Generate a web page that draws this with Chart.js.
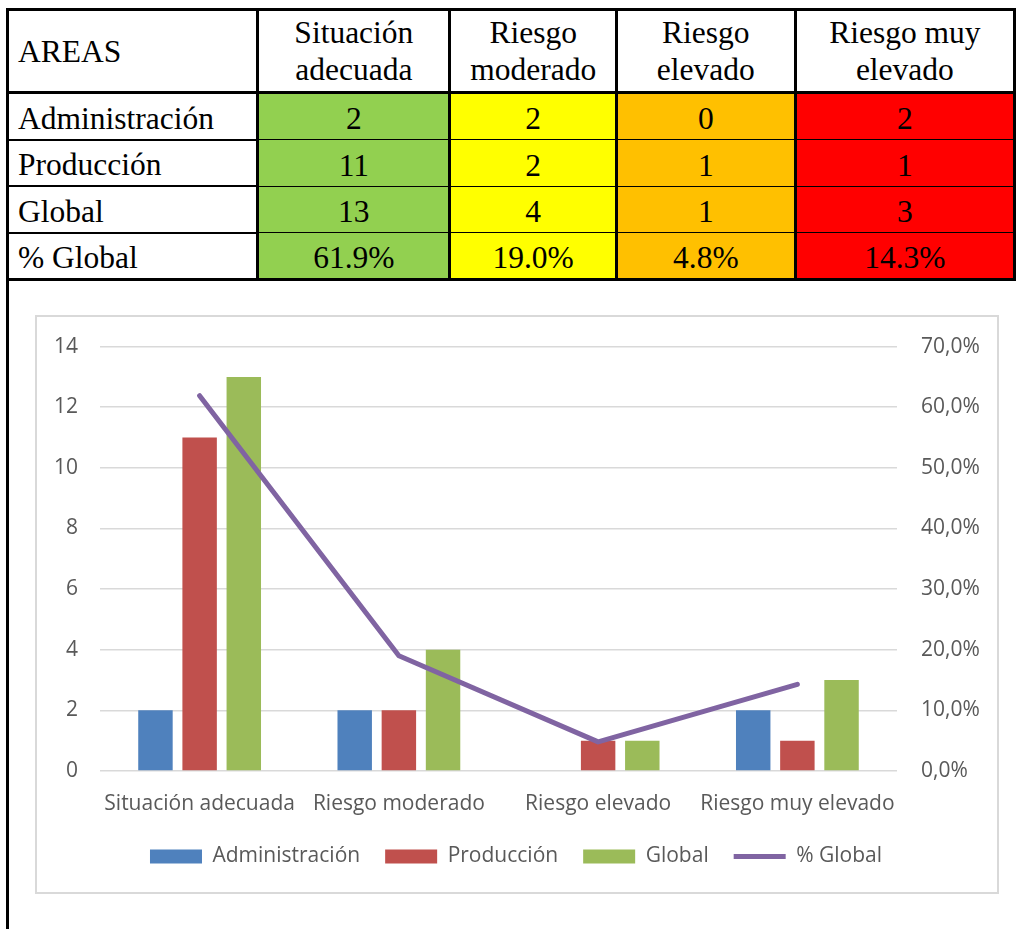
<!DOCTYPE html>
<html lang="es">
<head>
<meta charset="utf-8">
<title>Áreas por nivel de riesgo</title>
<script src="https://cdn.jsdelivr.net/npm/chart.js@4.4.1/dist/chart.umd.min.js"></script>
<style>
  html, body { margin: 0; padding: 0; background: #fff; }
  body { width: 1016px; height: 929px; position: relative; overflow: hidden; }
  #bordeIzq { position: absolute; left: 6px; top: 8px; width: 3px; height: 925px; background: #000; }
  #tabla {
    position: absolute; left: 6px; top: 8px;
    border-collapse: collapse; table-layout: fixed;
    font-family: "Liberation Serif", "Times New Roman", serif; font-size: 31.5px; color: #000;
  }
  #tabla th, #tabla td { padding: 0; font-weight: normal; }
  #tabla th {
    height: 80px; line-height: 37px; border: 3px solid #000;
    text-align: center; vertical-align: middle;
  }
  #tabla th.area { text-align: left; padding-left: 9px; }
  #tabla td {
    height: 42.5px; line-height: 36px; text-align: center; vertical-align: bottom; padding-bottom: 2px;
    border-top: 1px solid #000; border-bottom: 1px solid #000;
    border-left: 3px solid #000; border-right: 3px solid #000;
  }
  #tabla td.area { text-align: left; padding-left: 9px; border-top: 2px solid #000; border-bottom: 2px solid #000; }
  #tabla tr:last-child td { border-bottom: 3px solid #000; }
  #caja { position: absolute; left: 35px; top: 315px; width: 960px; height: 575px; border: 2px solid #d9d9d9; }
  #grafico { position: absolute; left: 37px; top: 310px; }
</style>
</head>
<body>
<div id="bordeIzq"></div>
<table id="tabla">
  <colgroup>
    <col style="width:252px"><col style="width:195px"><col style="width:168px"><col style="width:182px"><col style="width:224px">
  </colgroup>
  <thead><tr id="cabecera"></tr></thead>
  <tbody id="cuerpo"></tbody>
</table>
<div id="caja"></div>
<canvas id="grafico" width="958" height="572"></canvas>
<script>
// datos por nivel de riesgo
const categorias = ['Situación adecuada', 'Riesgo moderado', 'Riesgo elevado', 'Riesgo muy elevado'];
const administracion = [2, 2, 0, 2];
const produccion = [11, 2, 1, 1];
const globalTotal = [13, 4, 1, 3];
const pctGlobal = [61.9, 19.0, 4.8, 14.3];
const coloresNivel = ['#92D050', '#FFFF00', '#FFC000', '#FF0000'];

// tabla resumen
const cabecera = document.getElementById('cabecera');
cabecera.innerHTML = '<th class="area">AREAS</th>' + categorias.map(c => '<th>' + c + '</th>').join('');

const filas = [
  ['Administración', administracion.map(String)],
  ['Producción', produccion.map(String)],
  ['Global', globalTotal.map(String)],
  ['% Global', pctGlobal.map(v => v.toFixed(1) + '%')]
];
document.getElementById('cuerpo').innerHTML = filas.map(([nombre, valores]) =>
  '<tr><td class="area">' + nombre + '</td>' +
  valores.map((v, i) => '<td style="background:' + coloresNivel[i] + '">' + v + '</td>').join('') +
  '</tr>'
).join('');

// gráfico combinado
const fuente = { family: '"Open Sans", "Noto Sans", sans-serif', size: 21 };
const gris = '#595959';

new Chart(document.getElementById('grafico'), {
  type: 'bar',
  data: {
    labels: categorias,
    datasets: [
      { label: 'Administración', data: administracion, backgroundColor: '#4F81BD', yAxisID: 'y', order: 1, pointStyle: 'rect' },
      { label: 'Producción', data: produccion, backgroundColor: '#C0504D', yAxisID: 'y', order: 1, pointStyle: 'rect' },
      { label: 'Global', data: globalTotal, backgroundColor: '#9BBB59', yAxisID: 'y', order: 1, pointStyle: 'rect' },
      {
        type: 'line', label: '% Global', data: pctGlobal, yAxisID: 'y1', order: 0,
        borderColor: '#8064A2', backgroundColor: '#8064A2', borderWidth: 5,
        pointRadius: 0, pointHoverRadius: 0, pointStyle: 'line',
        borderCapStyle: 'round', borderJoinStyle: 'round', tension: 0
      }
    ]
  },
  options: {
    responsive: false,
    animation: false,
    categoryPercentage: 0.665,
    barPercentage: 0.78,
    layout: { padding: { top: 22, bottom: 5, left: 0, right: 0 } },
    scales: {
      x: {
        grid: { display: false },
        border: { display: false },
        ticks: { font: fuente, color: gris, padding: 12, maxRotation: 0 },
        afterFit: s => { s.height = 50; }
      },
      y: {
        position: 'left', min: 0, max: 14,
        grid: { color: '#d9d9d9', lineWidth: 1.5, drawTicks: false },
        border: { display: false },
        ticks: { stepSize: 2, font: fuente, color: gris, padding: 22 },
        afterFit: s => { s.width = 63; }
      },
      y1: {
        position: 'right', min: 0, max: 70,
        grid: { display: false, drawTicks: false },
        border: { display: false },
        ticks: {
          stepSize: 10, font: fuente, color: gris, padding: 24,
          callback: v => v.toFixed(1).replace('.', ',') + '%'
        },
        afterFit: s => { s.width = 98; }
      }
    },
    plugins: {
      tooltip: { enabled: false },
      legend: {
        position: 'bottom',
        labels: {
          usePointStyle: true, pointStyleWidth: 52, boxHeight: 14,
          padding: 25, font: fuente, color: gris,
          sort: (a, b) => a.datasetIndex - b.datasetIndex
        }
      }
    }
  }
});
</script>
</body>
</html>
